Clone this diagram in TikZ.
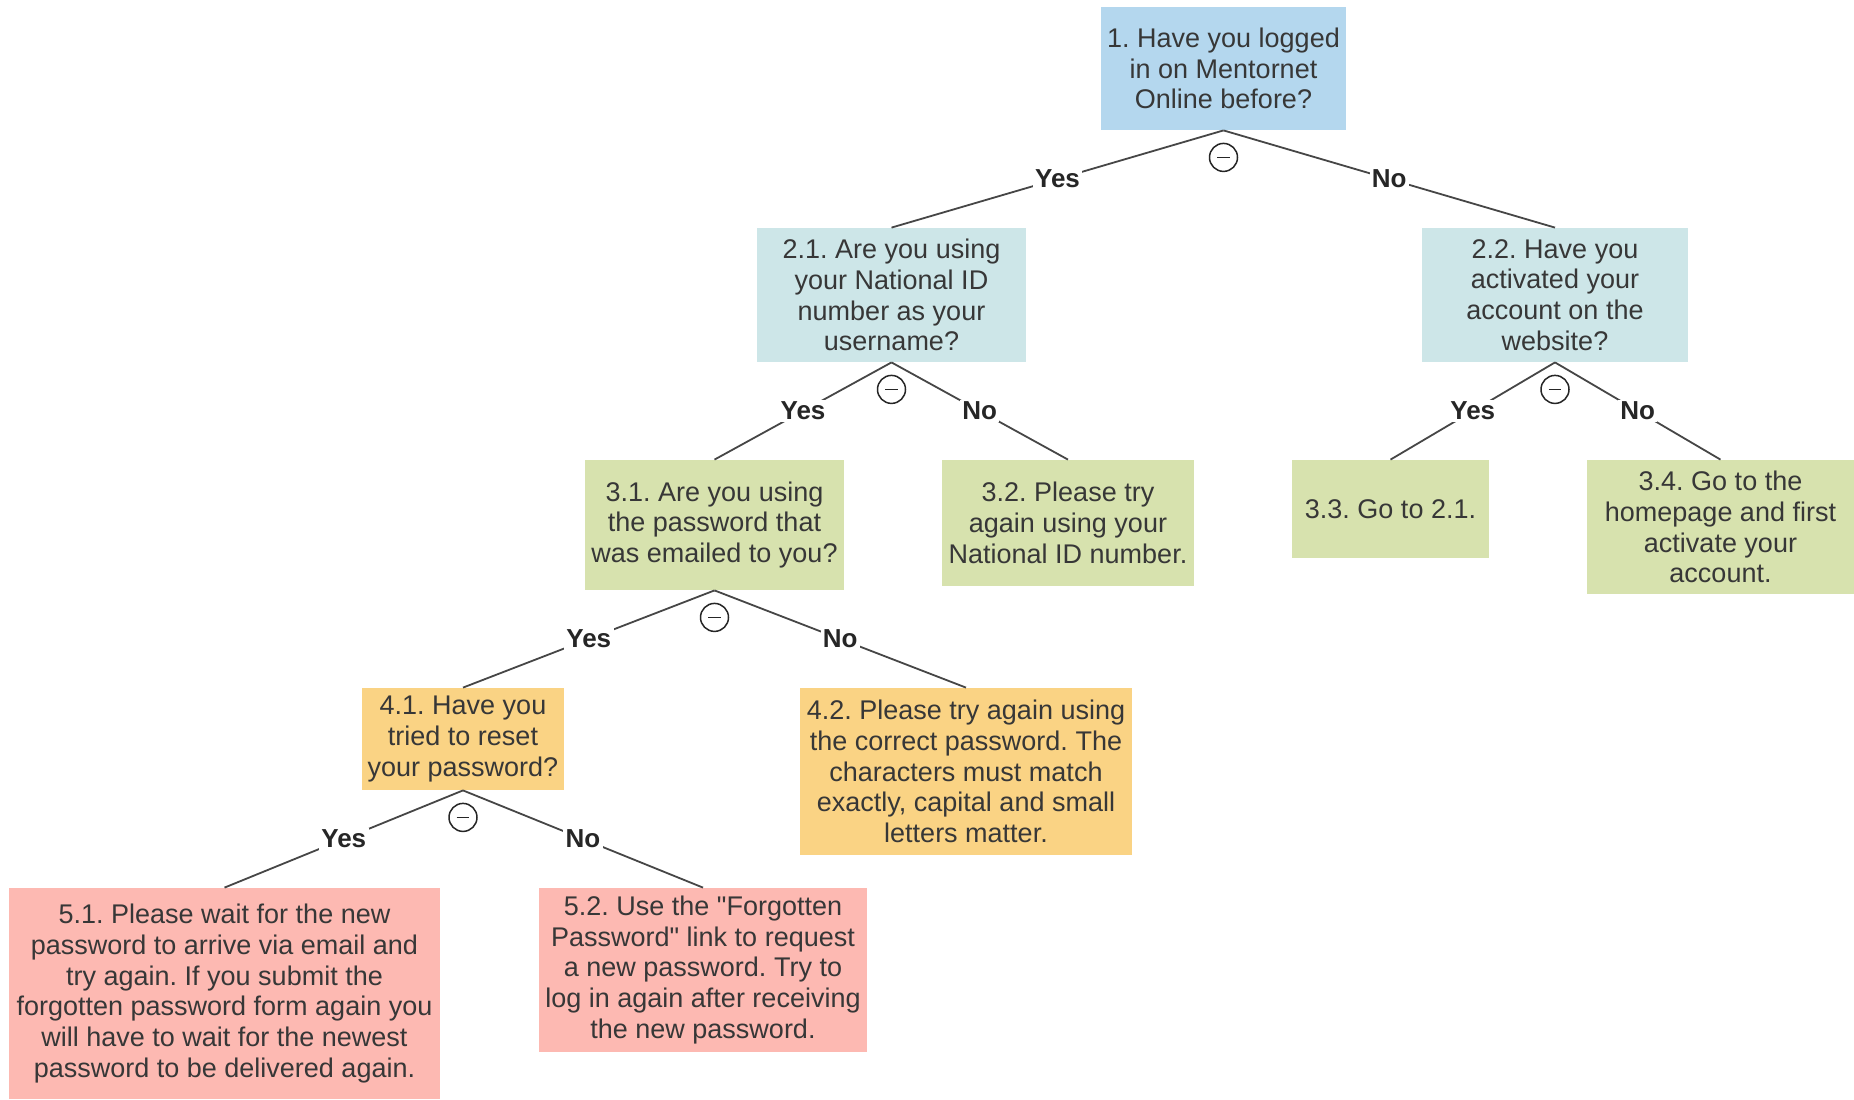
\documentclass[tikz,border=0pt]{standalone}
\usepackage{fontspec}
\setmainfont{Liberation Sans}[Ligatures=TeXOff]
\frenchspacing
\definecolor{cA}{RGB}{180,215,238}
\definecolor{cB}{RGB}{205,230,232}
\definecolor{cC}{RGB}{215,226,174}
\definecolor{cD}{RGB}{250,211,132}
\definecolor{cE}{RGB}{253,185,178}
\definecolor{txt}{RGB}{55,55,55}
\definecolor{ln}{RGB}{70,70,70}
\begin{document}
\begin{tikzpicture}[x=0.5pt,y=-0.5pt,
  box/.style={draw=none,inner sep=0pt,align=center,text=txt,
    font=\fontsize{13.5}{15.4}\selectfont},
  edge/.style={draw=ln,line width=0.9pt},
  lbl/.style={fill=white,inner sep=1.2pt,font=\fontsize{13}{14}\selectfont\bfseries,text=black!85},
  minus/.style={circle,draw=black!85,line width=0.75pt,minimum size=14pt,inner sep=0pt,
    path picture={\draw[black!85,line width=0.75pt] ([xshift=-3.2pt]path picture bounding box.center) -- ([xshift=3.2pt]path picture bounding box.center);}}
]
\useasboundingbox (0,0) rectangle (1854,1099);
\fill[white] (0,0) rectangle (1854,1099);

\node[box,fill=cA,minimum width=245*0.5pt,minimum height=123*0.5pt] (n1) at (1223.5,68.5)
  {1. Have you logged\\in on Mentornet\\Online before?};
\node[box,fill=cB,minimum width=269*0.5pt,minimum height=134*0.5pt] (n21) at (891.5,295)
  {2.1. Are you using\\your National ID\\number as your\\username?};
\node[box,fill=cB,minimum width=266*0.5pt,minimum height=134*0.5pt] (n22) at (1555,295)
  {2.2. Have you\\activated your\\account on the\\website?};
\node[box,fill=cC,minimum width=259*0.5pt,minimum height=130*0.5pt] (n31) at (714.5,525)
  {3.1. Are you using\\the password that\\was emailed to you?};
\node[box,fill=cC,minimum width=252*0.5pt,minimum height=126*0.5pt] (n32) at (1068,523)
  {3.2. Please try\\again using your\\National ID number.};
\node[box,fill=cC,minimum width=197*0.5pt,minimum height=98*0.5pt] (n33) at (1390.5,509)
  {3.3. Go to 2.1.};
\node[box,fill=cC,minimum width=267*0.5pt,minimum height=134*0.5pt] (n34) at (1720.5,527)
  {3.4. Go to the\\homepage and first\\activate your\\account.};
\node[box,fill=cD,minimum width=202*0.5pt,minimum height=102*0.5pt] (n41) at (463,739)
  {4.1. Have you\\tried to reset\\your password?};
\node[box,fill=cD,minimum width=332*0.5pt,minimum height=167*0.5pt] (n42) at (966,771.5)
  {4.2. Please try again using\\the correct password. The\\characters must match\\exactly, capital and small\\letters matter.};
\node[box,fill=cE,minimum width=431*0.5pt,minimum height=211*0.5pt] (n51) at (224.5,993.5)
  {5.1. Please wait for the new\\password to arrive via email and\\try again. If you submit the\\forgotten password form again you\\will have to wait for the newest\\password to be delivered again.};
\node[box,fill=cE,minimum width=328*0.5pt,minimum height=164*0.5pt] (n52) at (703,970)
  {5.2. Use the "Forgotten\\Password" link to request\\a new password. Try to\\log in again after receiving\\the new password.};

\draw[edge] (n1.south) -- node[lbl]{Yes} (n21.north);
\draw[edge] (n1.south) -- node[lbl]{No} (n22.north);
\draw[edge] (n21.south) -- node[lbl]{Yes} (n31.north);
\draw[edge] (n21.south) -- node[lbl]{No} (n32.north);
\draw[edge] (n22.south) -- node[lbl]{Yes} (n33.north);
\draw[edge] (n22.south) -- node[lbl]{No} (n34.north);
\draw[edge] (n31.south) -- node[lbl]{Yes} (n41.north);
\draw[edge] (n31.south) -- node[lbl]{No} (n42.north);
\draw[edge] (n41.south) -- node[lbl]{Yes} (n51.north);
\draw[edge] (n41.south) -- node[lbl]{No} (n52.north);

\node[minus] (m1) at ([yshift=-13.5pt]n1.south) {};
\node[minus] (m21) at ([yshift=-13.5pt]n21.south) {};
\node[minus] (m22) at ([yshift=-13.5pt]n22.south) {};
\node[minus] (m31) at ([yshift=-13.5pt]n31.south) {};
\node[minus] (m41) at ([yshift=-13.5pt]n41.south) {};
\end{tikzpicture}
\end{document}
